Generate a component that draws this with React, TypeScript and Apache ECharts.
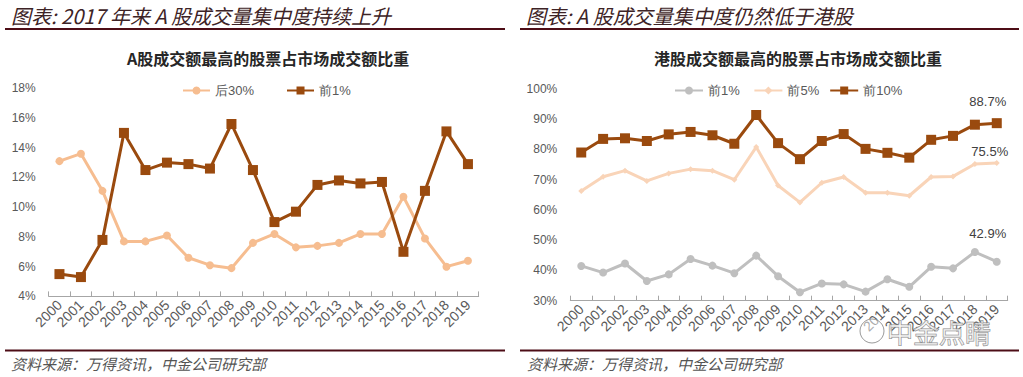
import React, { useEffect, useRef } from "react";
import * as echarts from "echarts";

const years = ["2000","2001","2002","2003","2004","2005","2006","2007","2008","2009","2010","2011","2012","2013","2014","2015","2016","2017","2018","2019"];

// Left chart (A shares), %
const aBottom30 = [13.1, 13.6, 11.1, 7.7, 7.7, 8.1, 6.6, 6.1, 5.9, 7.6, 8.2, 7.3, 7.4, 7.6, 8.2, 8.2, 10.7, 7.9, 6.0, 6.4];
const aTop1 = [5.5, 5.3, 7.8, 15.0, 12.5, 13.0, 12.9, 12.6, 15.6, 12.5, 9.0, 9.7, 11.5, 11.8, 11.6, 11.7, 7.0, 11.1, 15.1, 12.9];

// Right chart (HK shares), %
const hkTop1 = [41.5, 39.3, 42.3, 36.5, 38.7, 43.8, 41.6, 39.1, 44.9, 38.1, 32.8, 35.7, 35.4, 33.0, 37.1, 34.6, 41.2, 40.7, 46.1, 42.9];
const hkTop5 = [66.3, 71.0, 73.0, 69.6, 72.1, 73.5, 73.0, 70.0, 80.8, 68.1, 62.5, 69.0, 70.9, 65.7, 65.7, 64.7, 70.9, 71.1, 75.2, 75.5];
const hkTop10 = [79.0, 83.5, 83.7, 82.8, 85.0, 85.8, 84.7, 81.9, 91.4, 82.1, 76.8, 82.8, 85.1, 80.2, 78.9, 77.3, 83.2, 84.5, 88.2, 88.7];

const leftTicks = { min: 4, max: 18, interval: 2 };
const rightTicks = { min: 30, max: 100, interval: 10 };

const DARK = "#9a4a0e";
const PEACH = "#f6bd90";
const PEACH2 = "#f9d4b8";
const GREY = "#bfbfbf";
const RULE = "#4d0d16";
const TXT = "#595959";

function lastLabel(arr: number[], offset: number[]) {
  return arr.map((v, i) =>
    i === arr.length - 1
      ? {
          value: v,
          label: {
            show: true,
            position: "top",
            distance: 8,
            offset,
            formatter: (p: any) => p.value.toFixed(1) + "%",
            color: "#404040",
            fontSize: 13,
            fontFamily: "Liberation Sans, Arial, sans-serif",
          },
        }
      : v
  );
}

export default function App() {
  const ref = useRef<HTMLDivElement>(null);
  useEffect(() => {
    document.body.style.margin = "0";
    const chart = echarts.init(ref.current!, null, { renderer: "svg" });
    const font = "Liberation Sans, Arial, sans-serif";
    const cjk = "Noto Sans CJK SC, sans-serif";
    const xAxisCommon = {
      type: "category",
      data: years,
      boundaryGap: true,
      axisLine: { lineStyle: { color: "#a6a6a6", width: 1 } },
      axisTick: { show: true, inside: true, length: 5, lineStyle: { color: "#a6a6a6" } },
      axisLabel: { rotate: 45, color: TXT, fontSize: 14, fontFamily: font, interval: 0, margin: 6 },
    };
    const yAxisCommon = {
      type: "value",
      axisLine: { show: false },
      axisTick: { show: false },
      splitLine: { show: false },
      axisLabel: { color: TXT, fontSize: 12, fontFamily: font, formatter: "{value}%", margin: 13 },
    };
    chart.setOption({
      animation: false,
      grid: [
        { left: 48.7, right: 544.3, top: 88.3, bottom: 80.6 },
        { left: 570.3, right: 15.3, top: 89, bottom: 76.3 },
      ],
      xAxis: [
        { ...xAxisCommon, gridIndex: 0 },
        { ...xAxisCommon, gridIndex: 1 },
      ],
      yAxis: [
        { ...yAxisCommon, gridIndex: 0, ...leftTicks },
        { ...yAxisCommon, gridIndex: 1, ...rightTicks },
      ],
      legend: [
        {
          data: ["后30%", "前1%"],
          left: 177,
          top: 79,
          itemWidth: 27,
          itemHeight: 10,
          itemGap: 32,
          textStyle: { color: TXT, fontSize: 13, fontFamily: font },
        },
        {
          data: ["前1% ", "前5%", "前10%"],
          left: 669,
          top: 79,
          itemWidth: 28,
          itemHeight: 10,
          itemGap: 10,
          textStyle: { color: TXT, fontSize: 13, fontFamily: font },
        },
      ],
      series: [
        {
          name: "后30%",
          type: "line",
          xAxisIndex: 0,
          yAxisIndex: 0,
          data: aBottom30,
          symbol: "circle",
          symbolSize: 8,
          itemStyle: { color: PEACH },
          lineStyle: { color: PEACH, width: 3 },
        },
        {
          name: "前1%",
          type: "line",
          xAxisIndex: 0,
          yAxisIndex: 0,
          data: aTop1,
          symbol: "rect",
          symbolSize: 10,
          itemStyle: { color: DARK },
          lineStyle: { color: DARK, width: 3 },
          z: 3,
        },
        {
          name: "前1% ",
          type: "line",
          xAxisIndex: 1,
          yAxisIndex: 1,
          data: lastLabel(hkTop1, [-9, -10]),
          symbol: "circle",
          symbolSize: 8,
          itemStyle: { color: GREY },
          lineStyle: { color: GREY, width: 3 },
        },
        {
          name: "前5%",
          type: "line",
          xAxisIndex: 1,
          yAxisIndex: 1,
          data: lastLabel(hkTop5, [-7, 6]),
          symbol: "diamond",
          symbolSize: 6,
          itemStyle: { color: PEACH2 },
          lineStyle: { color: PEACH2, width: 3 },
        },
        {
          name: "前10%",
          type: "line",
          xAxisIndex: 1,
          yAxisIndex: 1,
          data: lastLabel(hkTop10, [-9, -2]),
          symbol: "rect",
          symbolSize: 10,
          itemStyle: { color: DARK },
          lineStyle: { color: DARK, width: 3 },
          z: 3,
        },
      ],
      graphic: [
        { type: "text", x: 11, y: 15, style: { text: "图表: 2017 年来 A 股成交量集中度持续上升", fill: "#3d2326", font: "italic 20px " + cjk, verticalAlign: "middle" } },
        { type: "text", x: 526, y: 15, style: { text: "图表: A 股成交量集中度仍然低于港股", fill: "#3d2326", font: "italic 20px " + cjk, verticalAlign: "middle" } },
        { type: "line", shape: { x1: 5, y1: 29, x2: 505, y2: 29 }, style: { stroke: RULE, lineWidth: 2 } },
        { type: "line", shape: { x1: 520, y1: 29, x2: 1019, y2: 29 }, style: { stroke: RULE, lineWidth: 2 } },
        { type: "text", x: 268, y: 58, style: { text: "A股成交额最高的股票占市场成交额比重", fill: "#262626", font: "bold 16px " + cjk, align: "center", verticalAlign: "middle" } },
        { type: "text", x: 798, y: 58, style: { text: "港股成交额最高的股票占市场成交额比重", fill: "#262626", font: "bold 16px " + cjk, align: "center", verticalAlign: "middle" } },
        { type: "line", shape: { x1: 5, y1: 350.5, x2: 505, y2: 350.5 }, style: { stroke: RULE, lineWidth: 2 } },
        { type: "line", shape: { x1: 520, y1: 350.5, x2: 1019, y2: 350.5 }, style: { stroke: RULE, lineWidth: 2 } },
        { type: "text", x: 11, y: 363, style: { text: "资料来源：万得资讯，中金公司研究部", fill: "#555555", font: "italic 15px " + cjk, verticalAlign: "middle" } },
        { type: "text", x: 527, y: 363, style: { text: "资料来源：万得资讯，中金公司研究部", fill: "#555555", font: "italic 15px " + cjk, verticalAlign: "middle" } },
        { type: "circle", shape: { cx: 872, cy: 331, r: 12 }, style: { fill: "rgba(255,255,255,0.5)", stroke: "#9a9a9a", lineWidth: 1 }, z: 10 },
        { type: "text", x: 887, y: 331, style: { text: "中金点睛", fill: "rgba(255,255,255,0.6)", stroke: "#8a8a8a", lineWidth: 1, font: "26px " + cjk, verticalAlign: "middle" }, z: 10 },
      ],
    });
    return () => chart.dispose();
  }, []);
  return <div ref={ref} style={{ width: 1023, height: 377, background: "#fff" }} />;
}
